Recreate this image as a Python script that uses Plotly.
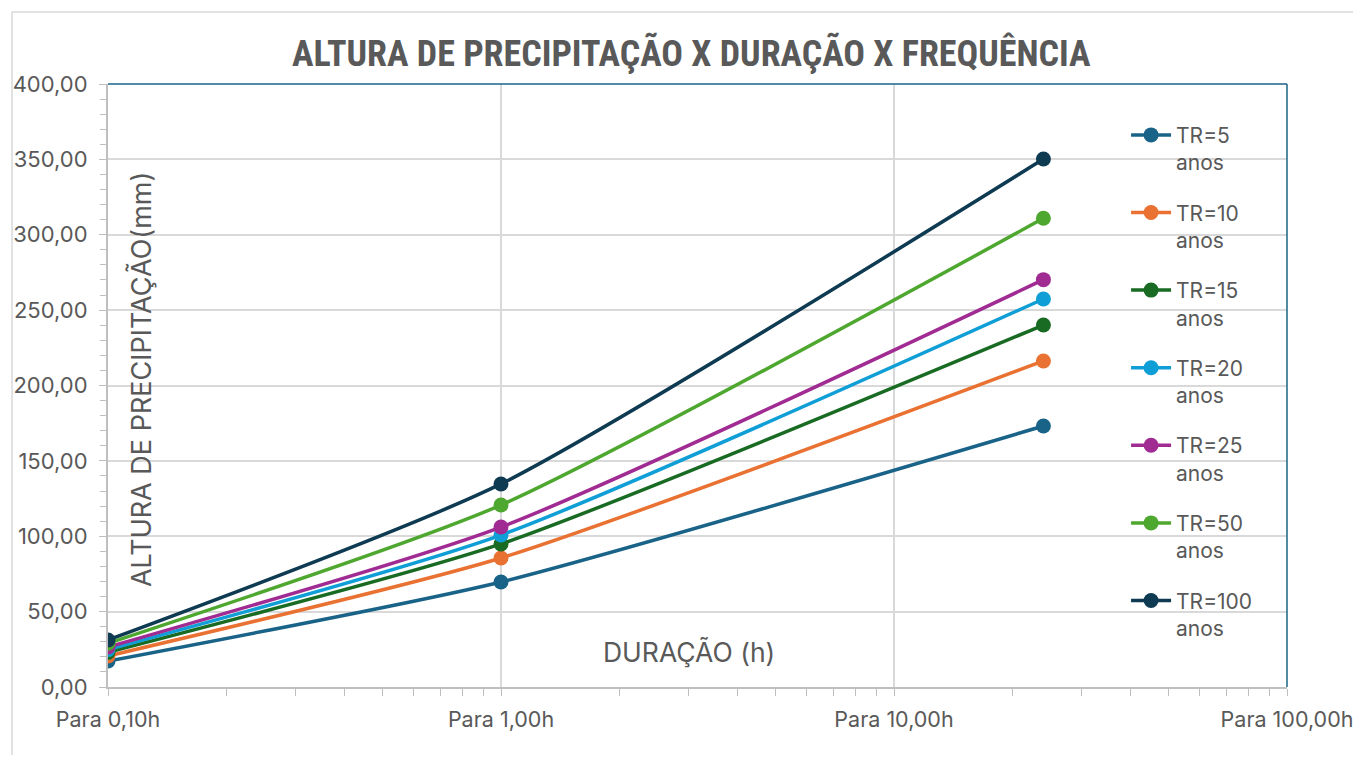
import plotly.graph_objects as go

# durations (h) and rainfall depths (mm) per return period
duracao = [0.1, 1.0, 24.0]
tr5 = [17.2, 69.7, 173.1]
tr10 = [20.6, 85.6, 216.3]
tr15 = [23.0, 94.9, 240.1]
tr20 = [24.8, 100.8, 257.4]
tr25 = [26.5, 106.1, 270.2]
tr50 = [29.0, 120.7, 310.9]
tr100 = [31.2, 134.7, 350.2]

series = [
    ('TR=5<br>anos', tr5, '#1a6388'),
    ('TR=10<br>anos', tr10, '#e97132'),
    ('TR=15<br>anos', tr15, '#196b24'),
    ('TR=20<br>anos', tr20, '#0f9ed5'),
    ('TR=25<br>anos', tr25, '#a02b93'),
    ('TR=50<br>anos', tr50, '#4ea72e'),
    ('TR=100<br>anos', tr100, '#0e3a52'),
]

x_ticks = [0.1, 1, 10, 100]
x_labels = ['Para 0,10h', 'Para 1,00h', 'Para 10,00h', 'Para 100,00h']
x_minor = [m * d for d in (0.1, 1, 10) for m in range(2, 10)]
y_ticks = [0, 50, 100, 150, 200, 250, 300, 350, 400]
y_labels = ['0,00', '50,00', '100,00', '150,00', '200,00', '250,00', '300,00', '350,00', '400,00']

txt_font = 'Inter, Roboto, sans-serif'
gray = '#595959'

fig = go.Figure()
for i, (name, vals, color) in enumerate(series):
    fig.add_trace(go.Scatter(
        x=duracao, y=vals, name=name, mode='lines+markers',
        line=dict(color=color, width=3.5, shape='spline', smoothing=0.6),
        marker=dict(color=color, size=15),
        legendgroup=str(i),
    ))

# page body has an 8px margin, so the figure is a bit smaller than the window
fig.update_layout(
    width=1353, height=747,
    margin=dict(l=100, r=74, t=76, b=68),
    paper_bgcolor='white', plot_bgcolor='white',
    title=dict(text='<b>ALTURA DE PRECIPITAÇÃO X DURAÇÃO X FREQUÊNCIA</b>',
               x=0.505, xanchor='center', y=0.939, yanchor='middle',
               font=dict(family='Liberation Sans Narrow, Arial Narrow, Roboto Condensed, sans-serif',
                         size=36, color=gray)),
    showlegend=True,
    legend=dict(x=0.8635, y=0.949, xanchor='left', yanchor='top',
                bgcolor='rgba(0,0,0,0)', valign='top', tracegroupgap=20,
                font=dict(family=txt_font, size=21, color=gray),
                itemwidth=40),
)

fig.update_xaxes(
    type='log', range=[-1, 2], automargin=False,
    tickvals=x_ticks, ticktext=x_labels,
    tickfont=dict(family=txt_font, size=21.5, color=gray),
    showgrid=True, gridcolor='#d9d9d9', gridwidth=1.5,
    showline=True, linecolor='#bfbfbf', linewidth=2,
    ticks='outside', ticklen=7, tickcolor='#bfbfbf', ticklabelstandoff=5,
    minor=dict(tickvals=x_minor, ticks='outside', ticklen=7, tickcolor='#bfbfbf', showgrid=False),
    zeroline=False,
)
fig.update_yaxes(
    range=[0, 400], automargin=False,
    tickvals=y_ticks, ticktext=y_labels,
    tickfont=dict(family=txt_font, size=22, color=gray),
    showgrid=True, gridcolor='#d9d9d9', gridwidth=1.5,
    showline=True, linecolor='#bfbfbf', linewidth=2,
    ticks='outside', ticklen=7, tickcolor='#bfbfbf', ticklabelstandoff=7,
    minor=dict(dtick=10, ticks='outside', ticklen=6, tickcolor='#bfbfbf', showgrid=False),
    zeroline=False,
)

# thin blue border on top and right of plot area
fig.add_shape(type='line', xref='paper', yref='paper', x0=0, x1=1, y0=1, y1=1,
              line=dict(color='#1a6388', width=1.5))
fig.add_shape(type='line', xref='paper', yref='paper', x0=1, x1=1, y0=0, y1=1,
              line=dict(color='#1a6388', width=1.5))

# outer chart frame
fig.add_shape(type='rect', xref='paper', yref='paper',
              x0=-96/1179, x1=1.2, y0=-2.0, y1=1 + 72/603,
              line=dict(color='#d9d9d9', width=1.5), layer='below')

fig.add_annotation(text='ALTURA DE PRECIPITAÇÃO(mm)', xref='paper', yref='paper',
                   x=0.028, y=0.509, textangle=-90, showarrow=False,
                   xanchor='center', yanchor='middle',
                   font=dict(family=txt_font, size=27, color=gray))
fig.add_annotation(text='DURAÇÃO (h)', xref='paper', yref='paper',
                   x=0.493, y=0.058, showarrow=False,
                   xanchor='center', yanchor='middle',
                   font=dict(family=txt_font, size=26.5, color=gray))

fig.write_html('out.html')
